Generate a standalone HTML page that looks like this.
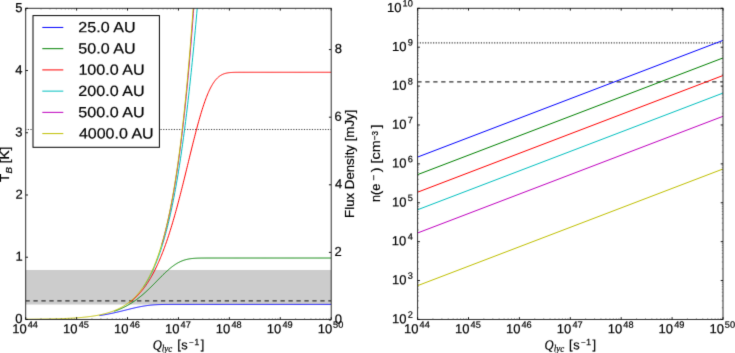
<!DOCTYPE html><html><head><meta charset="utf-8"><style>
html,body{margin:0;padding:0;background:#fff;overflow:hidden;}
svg{display:block;}
text{fill:#000;stroke:#000;stroke-width:0.2px;}
</style></head><body>
<svg width="735" height="353" viewBox="0 0 735 353">
<rect width="735" height="353" fill="#fff"/>
<filter id="bl" color-interpolation-filters="sRGB" filterUnits="userSpaceOnUse" x="0" y="0" width="735" height="353"><feConvolveMatrix order="3" kernelMatrix="0.01832 0.13534 0.01832 0.13534 1.00000 0.13534 0.01832 0.13534 0.01832" edgeMode="duplicate"/></filter>
<g filter="url(#bl)">
<rect width="735" height="353" fill="#fff"/>
<defs><clipPath id="cl"><rect x="25.70" y="8.30" width="305.50" height="311.15"/></clipPath>
<clipPath id="cr"><rect x="417.60" y="8.30" width="305.40" height="311.15"/></clipPath></defs>
<g clip-path="url(#cl)">
<rect x="25.70" y="269.98" width="305.50" height="34.54" fill="#cccccc"/>
<line x1="25.45" y1="300.78" x2="331.20" y2="300.78" stroke="#333" stroke-width="1.25" stroke-dasharray="4.3 3.67"/>
<line x1="25.10" y1="129.46" x2="331.20" y2="129.46" stroke="#404040" stroke-width="1.1" stroke-dasharray="1.2 1.455"/>
<path d="M99.40,315.57 L99.91,315.50 L100.42,315.42 L100.93,315.34 L101.44,315.26 L101.95,315.18 L102.46,315.09 L102.97,315.01 L103.48,314.92 L103.98,314.83 L104.49,314.75 L105.00,314.66 L105.51,314.57 L106.02,314.47 L106.53,314.38 L107.04,314.28 L107.55,314.19 L108.06,314.09 L108.57,313.99 L109.08,313.89 L109.59,313.79 L110.09,313.69 L110.60,313.58 L111.11,313.48 L111.62,313.37 L112.13,313.26 L112.64,313.16 L113.15,313.05 L113.66,312.94 L114.17,312.82 L114.68,312.71 L115.19,312.60 L115.70,312.48 L116.20,312.37 L116.71,312.25 L117.22,312.13 L117.73,312.01 L118.24,311.89 L118.75,311.77 L119.26,311.65 L119.77,311.53 L120.28,311.40 L120.79,311.28 L121.30,311.16 L121.81,311.03 L122.31,310.91 L122.82,310.78 L123.33,310.65 L123.84,310.53 L124.35,310.40 L124.86,310.27 L125.37,310.15 L125.88,310.02 L126.39,309.89 L126.90,309.77 L127.41,309.64 L127.92,309.51 L128.42,309.38 L128.93,309.26 L129.44,309.13 L129.95,309.01 L130.46,308.88 L130.97,308.76 L131.48,308.63 L131.99,308.51 L132.50,308.39 L133.01,308.27 L133.52,308.15 L134.03,308.03 L134.53,307.91 L135.04,307.79 L135.55,307.68 L136.06,307.56 L136.57,307.45 L137.08,307.34 L137.59,307.23 L138.10,307.12 L138.61,307.02 L139.12,306.91 L139.63,306.81 L140.14,306.71 L140.64,306.61 L141.15,306.52 L141.66,306.42 L142.17,306.33 L142.68,306.24 L143.19,306.15 L143.70,306.07 L144.21,305.99 L144.72,305.91 L145.23,305.83 L145.74,305.75 L146.25,305.68 L146.75,305.61 L147.26,305.54 L147.77,305.48 L148.28,305.41 L148.79,305.35 L149.30,305.29 L149.81,305.24 L150.32,305.18 L150.83,305.13 L151.34,305.08 L151.85,305.04 L152.36,304.99 L152.86,304.95 L153.37,304.91 L153.88,304.87 L154.39,304.84 L154.90,304.80 L155.41,304.77 L155.92,304.74 L156.43,304.72 L156.94,304.69 L157.45,304.67 L157.96,304.64 L158.47,304.62 L158.97,304.60 L159.48,304.59 L159.99,304.57 L160.50,304.55 L161.01,304.54 L161.52,304.53 L162.03,304.52 L162.54,304.51 L163.05,304.50 L163.56,304.49 L164.07,304.48 L164.58,304.47 L165.08,304.47 L165.59,304.46 L166.10,304.46 L166.61,304.45 L167.12,304.45 L167.63,304.44 L168.14,304.44 L168.65,304.44 L169.16,304.44 L169.67,304.43 L170.18,304.43 L170.69,304.43 L171.19,304.43 L171.70,304.43 L172.21,304.43 L172.72,304.43 L173.23,304.42 L173.74,304.42 L174.25,304.42 L174.76,304.42 L175.27,304.42 L175.78,304.42 L176.29,304.42 L176.80,304.42 L177.30,304.42 L177.81,304.42 L178.32,304.42 L178.83,304.42 L179.34,304.42 L179.85,304.42 L180.36,304.42 L180.87,304.42 L181.38,304.42 L181.89,304.42 L182.40,304.42 L182.91,304.42 L183.41,304.42 L183.92,304.42 L184.43,304.42 L184.94,304.42 L185.45,304.42 L185.96,304.42 L186.47,304.42 L186.98,304.42 L187.49,304.42 L188.00,304.42 L188.51,304.42 L189.02,304.42 L189.52,304.42 L190.03,304.42 L190.54,304.42 L191.05,304.42 L191.56,304.42 L192.07,304.42 L192.58,304.42 L193.09,304.42 L193.60,304.42 L194.11,304.42 L194.62,304.42 L195.13,304.42 L195.63,304.42 L196.14,304.42 L196.65,304.42 L197.16,304.42 L197.67,304.42 L198.18,304.42 L198.69,304.42 L199.20,304.42 L199.71,304.42 L200.22,304.42 L200.73,304.42 L201.24,304.42 L201.74,304.42 L202.25,304.42 L202.76,304.42 L203.27,304.42 L203.78,304.42 L204.29,304.42 L204.80,304.42 L205.31,304.42 L205.82,304.42 L206.33,304.42 L206.84,304.42 L207.35,304.42 L207.85,304.42 L208.36,304.42 L208.87,304.42 L209.38,304.42 L209.89,304.42 L210.40,304.42 L210.91,304.42 L211.42,304.42 L211.93,304.42 L212.44,304.42 L212.95,304.42 L213.46,304.42 L213.96,304.42 L214.47,304.42 L214.98,304.42 L215.49,304.42 L216.00,304.42 L216.51,304.42 L217.02,304.42 L217.53,304.42 L218.04,304.42 L218.55,304.42 L219.06,304.42 L219.57,304.42 L220.07,304.42 L220.58,304.42 L221.09,304.42 L221.60,304.42 L222.11,304.42 L222.62,304.42 L223.13,304.42 L223.64,304.42 L224.15,304.42 L224.66,304.42 L225.17,304.42 L225.68,304.42 L226.18,304.42 L226.69,304.42 L227.20,304.42 L227.71,304.42 L228.22,304.42 L228.73,304.42 L229.24,304.42 L229.75,304.42 L230.26,304.42 L230.77,304.42 L231.28,304.42 L231.79,304.42 L232.29,304.42 L232.80,304.42 L233.31,304.42 L233.82,304.42 L234.33,304.42 L234.84,304.42 L235.35,304.42 L235.86,304.42 L236.37,304.42 L236.88,304.42 L237.39,304.42 L237.90,304.42 L238.40,304.42 L238.91,304.42 L239.42,304.42 L239.93,304.42 L240.44,304.42 L240.95,304.42 L241.46,304.42 L241.97,304.42 L242.48,304.42 L242.99,304.42 L243.50,304.42 L244.01,304.42 L244.51,304.42 L245.02,304.42 L245.53,304.42 L246.04,304.42 L246.55,304.42 L247.06,304.42 L247.57,304.42 L248.08,304.42 L248.59,304.42 L249.10,304.42 L249.61,304.42 L250.12,304.42 L250.62,304.42 L251.13,304.42 L251.64,304.42 L252.15,304.42 L252.66,304.42 L253.17,304.42 L253.68,304.42 L254.19,304.42 L254.70,304.42 L255.21,304.42 L255.72,304.42 L256.23,304.42 L256.73,304.42 L257.24,304.42 L257.75,304.42 L258.26,304.42 L258.77,304.42 L259.28,304.42 L259.79,304.42 L260.30,304.42 L260.81,304.42 L261.32,304.42 L261.83,304.42 L262.34,304.42 L262.84,304.42 L263.35,304.42 L263.86,304.42 L264.37,304.42 L264.88,304.42 L265.39,304.42 L265.90,304.42 L266.41,304.42 L266.92,304.42 L267.43,304.42 L267.94,304.42 L268.45,304.42 L268.95,304.42 L269.46,304.42 L269.97,304.42 L270.48,304.42 L270.99,304.42 L271.50,304.42 L272.01,304.42 L272.52,304.42 L273.03,304.42 L273.54,304.42 L274.05,304.42 L274.56,304.42 L275.06,304.42 L275.57,304.42 L276.08,304.42 L276.59,304.42 L277.10,304.42 L277.61,304.42 L278.12,304.42 L278.63,304.42 L279.14,304.42 L279.65,304.42 L280.16,304.42 L280.67,304.42 L281.17,304.42 L281.68,304.42 L282.19,304.42 L282.70,304.42 L283.21,304.42 L283.72,304.42 L284.23,304.42 L284.74,304.42 L285.25,304.42 L285.76,304.42 L286.27,304.42 L286.78,304.42 L287.28,304.42 L287.79,304.42 L288.30,304.42 L288.81,304.42 L289.32,304.42 L289.83,304.42 L290.34,304.42 L290.85,304.42 L291.36,304.42 L291.87,304.42 L292.38,304.42 L292.89,304.42 L293.39,304.42 L293.90,304.42 L294.41,304.42 L294.92,304.42 L295.43,304.42 L295.94,304.42 L296.45,304.42 L296.96,304.42 L297.47,304.42 L297.98,304.42 L298.49,304.42 L299.00,304.42 L299.50,304.42 L300.01,304.42 L300.52,304.42 L301.03,304.42 L301.54,304.42 L302.05,304.42 L302.56,304.42 L303.07,304.42 L303.58,304.42 L304.09,304.42 L304.60,304.42 L305.11,304.42 L305.61,304.42 L306.12,304.42 L306.63,304.42 L307.14,304.42 L307.65,304.42 L308.16,304.42 L308.67,304.42 L309.18,304.42 L309.69,304.42 L310.20,304.42 L310.71,304.42 L311.22,304.42 L311.72,304.42 L312.23,304.42 L312.74,304.42 L313.25,304.42 L313.76,304.42 L314.27,304.42 L314.78,304.42 L315.29,304.42 L315.80,304.42 L316.31,304.42 L316.82,304.42 L317.33,304.42 L317.83,304.42 L318.34,304.42 L318.85,304.42 L319.36,304.42 L319.87,304.42 L320.38,304.42 L320.89,304.42 L321.40,304.42 L321.91,304.42 L322.42,304.42 L322.93,304.42 L323.44,304.42 L323.94,304.42 L324.45,304.42 L324.96,304.42 L325.47,304.42 L325.98,304.42 L326.49,304.42 L327.00,304.42 L327.51,304.42 L328.02,304.42 L328.53,304.42 L329.04,304.42 L329.55,304.42 L330.05,304.42 L330.56,304.42 L331.07,304.42 L331.20,304.42" fill="none" stroke="#0000ff" stroke-width="1.00"/>
<path d="M114.30,311.26 L114.80,311.08 L115.31,310.90 L115.82,310.72 L116.33,310.53 L116.84,310.34 L117.35,310.14 L117.86,309.95 L118.37,309.74 L118.88,309.54 L119.39,309.32 L119.90,309.11 L120.40,308.89 L120.91,308.67 L121.42,308.44 L121.93,308.21 L122.44,307.97 L122.95,307.73 L123.46,307.49 L123.97,307.24 L124.48,306.99 L124.99,306.73 L125.50,306.47 L126.01,306.20 L126.51,305.93 L127.02,305.65 L127.53,305.37 L128.04,305.08 L128.55,304.79 L129.06,304.50 L129.57,304.20 L130.08,303.89 L130.59,303.58 L131.10,303.26 L131.61,302.94 L132.12,302.61 L132.63,302.28 L133.13,301.95 L133.64,301.60 L134.15,301.26 L134.66,300.91 L135.17,300.55 L135.68,300.19 L136.19,299.82 L136.70,299.44 L137.21,299.07 L137.72,298.68 L138.23,298.29 L138.73,297.90 L139.24,297.50 L139.75,297.10 L140.26,296.69 L140.77,296.27 L141.28,295.85 L141.79,295.43 L142.30,295.00 L142.81,294.56 L143.32,294.12 L143.83,293.68 L144.34,293.23 L144.85,292.78 L145.35,292.32 L145.86,291.86 L146.37,291.39 L146.88,290.92 L147.39,290.44 L147.90,289.96 L148.41,289.48 L148.92,288.99 L149.43,288.50 L149.94,288.01 L150.45,287.51 L150.96,287.01 L151.46,286.51 L151.97,286.01 L152.48,285.50 L152.99,284.99 L153.50,284.48 L154.01,283.96 L154.52,283.45 L155.03,282.93 L155.54,282.41 L156.05,281.89 L156.56,281.37 L157.06,280.85 L157.57,280.33 L158.08,279.81 L158.59,279.29 L159.10,278.77 L159.61,278.26 L160.12,277.74 L160.63,277.22 L161.14,276.71 L161.65,276.20 L162.16,275.69 L162.67,275.19 L163.18,274.68 L163.68,274.19 L164.19,273.69 L164.70,273.20 L165.21,272.71 L165.72,272.23 L166.23,271.76 L166.74,271.29 L167.25,270.82 L167.76,270.36 L168.27,269.91 L168.78,269.46 L169.28,269.02 L169.79,268.59 L170.30,268.17 L170.81,267.75 L171.32,267.34 L171.83,266.94 L172.34,266.55 L172.85,266.17 L173.36,265.79 L173.87,265.43 L174.38,265.07 L174.89,264.73 L175.39,264.39 L175.90,264.06 L176.41,263.74 L176.92,263.44 L177.43,263.14 L177.94,262.85 L178.45,262.57 L178.96,262.31 L179.47,262.05 L179.98,261.80 L180.49,261.56 L181.00,261.34 L181.51,261.12 L182.01,260.91 L182.52,260.71 L183.03,260.52 L183.54,260.34 L184.05,260.17 L184.56,260.01 L185.07,259.86 L185.58,259.72 L186.09,259.58 L186.60,259.45 L187.11,259.33 L187.61,259.22 L188.12,259.12 L188.63,259.02 L189.14,258.93 L189.65,258.84 L190.16,258.77 L190.67,258.69 L191.18,258.63 L191.69,258.57 L192.20,258.51 L192.71,258.46 L193.22,258.41 L193.72,258.37 L194.23,258.33 L194.74,258.30 L195.25,258.26 L195.76,258.24 L196.27,258.21 L196.78,258.19 L197.29,258.17 L197.80,258.15 L198.31,258.13 L198.82,258.12 L199.33,258.11 L199.84,258.09 L200.34,258.08 L200.85,258.08 L201.36,258.07 L201.87,258.06 L202.38,258.06 L202.89,258.05 L203.40,258.05 L203.91,258.05 L204.42,258.04 L204.93,258.04 L205.44,258.04 L205.94,258.04 L206.45,258.03 L206.96,258.03 L207.47,258.03 L207.98,258.03 L208.49,258.03 L209.00,258.03 L209.51,258.03 L210.02,258.03 L210.53,258.03 L211.04,258.03 L211.55,258.03 L212.05,258.03 L212.56,258.03 L213.07,258.03 L213.58,258.03 L214.09,258.03 L214.60,258.03 L215.11,258.03 L215.62,258.03 L216.13,258.03 L216.64,258.03 L217.15,258.03 L217.66,258.03 L218.17,258.03 L218.67,258.03 L219.18,258.03 L219.69,258.03 L220.20,258.03 L220.71,258.03 L221.22,258.03 L221.73,258.03 L222.24,258.03 L222.75,258.03 L223.26,258.03 L223.77,258.03 L224.27,258.03 L224.78,258.03 L225.29,258.03 L225.80,258.03 L226.31,258.03 L226.82,258.03 L227.33,258.03 L227.84,258.03 L228.35,258.03 L228.86,258.03 L229.37,258.03 L229.88,258.03 L230.38,258.03 L230.89,258.03 L231.40,258.03 L231.91,258.03 L232.42,258.03 L232.93,258.03 L233.44,258.03 L233.95,258.03 L234.46,258.03 L234.97,258.03 L235.48,258.03 L235.99,258.03 L236.50,258.03 L237.00,258.03 L237.51,258.03 L238.02,258.03 L238.53,258.03 L239.04,258.03 L239.55,258.03 L240.06,258.03 L240.57,258.03 L241.08,258.03 L241.59,258.03 L242.10,258.03 L242.60,258.03 L243.11,258.03 L243.62,258.03 L244.13,258.03 L244.64,258.03 L245.15,258.03 L245.66,258.03 L246.17,258.03 L246.68,258.03 L247.19,258.03 L247.70,258.03 L248.21,258.03 L248.72,258.03 L249.22,258.03 L249.73,258.03 L250.24,258.03 L250.75,258.03 L251.26,258.03 L251.77,258.03 L252.28,258.03 L252.79,258.03 L253.30,258.03 L253.81,258.03 L254.32,258.03 L254.82,258.03 L255.33,258.03 L255.84,258.03 L256.35,258.03 L256.86,258.03 L257.37,258.03 L257.88,258.03 L258.39,258.03 L258.90,258.03 L259.41,258.03 L259.92,258.03 L260.43,258.03 L260.93,258.03 L261.44,258.03 L261.95,258.03 L262.46,258.03 L262.97,258.03 L263.48,258.03 L263.99,258.03 L264.50,258.03 L265.01,258.03 L265.52,258.03 L266.03,258.03 L266.54,258.03 L267.05,258.03 L267.55,258.03 L268.06,258.03 L268.57,258.03 L269.08,258.03 L269.59,258.03 L270.10,258.03 L270.61,258.03 L271.12,258.03 L271.63,258.03 L272.14,258.03 L272.65,258.03 L273.15,258.03 L273.66,258.03 L274.17,258.03 L274.68,258.03 L275.19,258.03 L275.70,258.03 L276.21,258.03 L276.72,258.03 L277.23,258.03 L277.74,258.03 L278.25,258.03 L278.76,258.03 L279.27,258.03 L279.77,258.03 L280.28,258.03 L280.79,258.03 L281.30,258.03 L281.81,258.03 L282.32,258.03 L282.83,258.03 L283.34,258.03 L283.85,258.03 L284.36,258.03 L284.87,258.03 L285.38,258.03 L285.88,258.03 L286.39,258.03 L286.90,258.03 L287.41,258.03 L287.92,258.03 L288.43,258.03 L288.94,258.03 L289.45,258.03 L289.96,258.03 L290.47,258.03 L290.98,258.03 L291.48,258.03 L291.99,258.03 L292.50,258.03 L293.01,258.03 L293.52,258.03 L294.03,258.03 L294.54,258.03 L295.05,258.03 L295.56,258.03 L296.07,258.03 L296.58,258.03 L297.09,258.03 L297.60,258.03 L298.10,258.03 L298.61,258.03 L299.12,258.03 L299.63,258.03 L300.14,258.03 L300.65,258.03 L301.16,258.03 L301.67,258.03 L302.18,258.03 L302.69,258.03 L303.20,258.03 L303.71,258.03 L304.21,258.03 L304.72,258.03 L305.23,258.03 L305.74,258.03 L306.25,258.03 L306.76,258.03 L307.27,258.03 L307.78,258.03 L308.29,258.03 L308.80,258.03 L309.31,258.03 L309.81,258.03 L310.32,258.03 L310.83,258.03 L311.34,258.03 L311.85,258.03 L312.36,258.03 L312.87,258.03 L313.38,258.03 L313.89,258.03 L314.40,258.03 L314.91,258.03 L315.42,258.03 L315.93,258.03 L316.43,258.03 L316.94,258.03 L317.45,258.03 L317.96,258.03 L318.47,258.03 L318.98,258.03 L319.49,258.03 L320.00,258.03 L320.51,258.03 L321.02,258.03 L321.53,258.03 L322.04,258.03 L322.54,258.03 L323.05,258.03 L323.56,258.03 L324.07,258.03 L324.58,258.03 L325.09,258.03 L325.60,258.03 L326.11,258.03 L326.62,258.03 L327.13,258.03 L327.64,258.03 L328.14,258.03 L328.65,258.03 L329.16,258.03 L329.67,258.03 L330.18,258.03 L330.69,258.03 L331.20,258.03" fill="none" stroke="#008000" stroke-width="1.00"/>
<path d="M129.44,302.62 L129.95,302.24 L130.46,301.85 L130.97,301.46 L131.48,301.05 L131.99,300.64 L132.50,300.22 L133.01,299.79 L133.52,299.35 L134.03,298.90 L134.53,298.45 L135.04,297.98 L135.55,297.50 L136.06,297.01 L136.57,296.52 L137.08,296.01 L137.59,295.49 L138.10,294.96 L138.61,294.42 L139.12,293.87 L139.63,293.31 L140.14,292.73 L140.64,292.14 L141.15,291.55 L141.66,290.93 L142.17,290.31 L142.68,289.67 L143.19,289.03 L143.70,288.36 L144.21,287.69 L144.72,287.00 L145.23,286.30 L145.74,285.58 L146.25,284.85 L146.75,284.10 L147.26,283.34 L147.77,282.57 L148.28,281.78 L148.79,280.97 L149.30,280.15 L149.81,279.31 L150.32,278.46 L150.83,277.59 L151.34,276.71 L151.85,275.81 L152.36,274.89 L152.86,273.95 L153.37,273.00 L153.88,272.03 L154.39,271.04 L154.90,270.03 L155.41,269.01 L155.92,267.96 L156.43,266.90 L156.94,265.82 L157.45,264.72 L157.96,263.60 L158.47,262.46 L158.97,261.31 L159.48,260.13 L159.99,258.93 L160.50,257.72 L161.01,256.48 L161.52,255.22 L162.03,253.94 L162.54,252.65 L163.05,251.33 L163.56,249.99 L164.07,248.63 L164.58,247.24 L165.08,245.84 L165.59,244.42 L166.10,242.97 L166.61,241.51 L167.12,240.02 L167.63,238.51 L168.14,236.99 L168.65,235.44 L169.16,233.86 L169.67,232.27 L170.18,230.66 L170.69,229.03 L171.19,227.37 L171.70,225.70 L172.21,224.00 L172.72,222.29 L173.23,220.55 L173.74,218.80 L174.25,217.02 L174.76,215.23 L175.27,213.42 L175.78,211.59 L176.29,209.74 L176.80,207.88 L177.30,205.99 L177.81,204.09 L178.32,202.18 L178.83,200.24 L179.34,198.30 L179.85,196.33 L180.36,194.36 L180.87,192.37 L181.38,190.37 L181.89,188.35 L182.40,186.33 L182.91,184.29 L183.41,182.24 L183.92,180.19 L184.43,178.13 L184.94,176.06 L185.45,173.98 L185.96,171.90 L186.47,169.81 L186.98,167.72 L187.49,165.63 L188.00,163.53 L188.51,161.44 L189.02,159.35 L189.52,157.26 L190.03,155.17 L190.54,153.09 L191.05,151.01 L191.56,148.94 L192.07,146.88 L192.58,144.82 L193.09,142.78 L193.60,140.75 L194.11,138.73 L194.62,136.73 L195.13,134.74 L195.63,132.78 L196.14,130.82 L196.65,128.89 L197.16,126.98 L197.67,125.09 L198.18,123.23 L198.69,121.39 L199.20,119.57 L199.71,117.79 L200.22,116.03 L200.73,114.30 L201.24,112.60 L201.74,110.93 L202.25,109.30 L202.76,107.69 L203.27,106.13 L203.78,104.59 L204.29,103.10 L204.80,101.64 L205.31,100.22 L205.82,98.83 L206.33,97.49 L206.84,96.18 L207.35,94.92 L207.85,93.69 L208.36,92.51 L208.87,91.36 L209.38,90.25 L209.89,89.19 L210.40,88.17 L210.91,87.18 L211.42,86.24 L211.93,85.33 L212.44,84.47 L212.95,83.64 L213.46,82.86 L213.96,82.11 L214.47,81.40 L214.98,80.72 L215.49,80.08 L216.00,79.48 L216.51,78.91 L217.02,78.37 L217.53,77.87 L218.04,77.40 L218.55,76.95 L219.06,76.54 L219.57,76.16 L220.07,75.80 L220.58,75.46 L221.09,75.16 L221.60,74.87 L222.11,74.61 L222.62,74.37 L223.13,74.15 L223.64,73.95 L224.15,73.76 L224.66,73.60 L225.17,73.45 L225.68,73.31 L226.18,73.18 L226.69,73.07 L227.20,72.97 L227.71,72.88 L228.22,72.80 L228.73,72.73 L229.24,72.67 L229.75,72.61 L230.26,72.57 L230.77,72.52 L231.28,72.49 L231.79,72.45 L232.29,72.43 L232.80,72.40 L233.31,72.38 L233.82,72.36 L234.33,72.35 L234.84,72.33 L235.35,72.32 L235.86,72.31 L236.37,72.31 L236.88,72.30 L237.39,72.30 L237.90,72.29 L238.40,72.29 L238.91,72.28 L239.42,72.28 L239.93,72.28 L240.44,72.28 L240.95,72.28 L241.46,72.28 L241.97,72.28 L242.48,72.27 L242.99,72.27 L243.50,72.27 L244.01,72.27 L244.51,72.27 L245.02,72.27 L245.53,72.27 L246.04,72.27 L246.55,72.27 L247.06,72.27 L247.57,72.27 L248.08,72.27 L248.59,72.27 L249.10,72.27 L249.61,72.27 L250.12,72.27 L250.62,72.27 L251.13,72.27 L251.64,72.27 L252.15,72.27 L252.66,72.27 L253.17,72.27 L253.68,72.27 L254.19,72.27 L254.70,72.27 L255.21,72.27 L255.72,72.27 L256.23,72.27 L256.73,72.27 L257.24,72.27 L257.75,72.27 L258.26,72.27 L258.77,72.27 L259.28,72.27 L259.79,72.27 L260.30,72.27 L260.81,72.27 L261.32,72.27 L261.83,72.27 L262.34,72.27 L262.84,72.27 L263.35,72.27 L263.86,72.27 L264.37,72.27 L264.88,72.27 L265.39,72.27 L265.90,72.27 L266.41,72.27 L266.92,72.27 L267.43,72.27 L267.94,72.27 L268.45,72.27 L268.95,72.27 L269.46,72.27 L269.97,72.27 L270.48,72.27 L270.99,72.27 L271.50,72.27 L272.01,72.27 L272.52,72.27 L273.03,72.27 L273.54,72.27 L274.05,72.27 L274.56,72.27 L275.06,72.27 L275.57,72.27 L276.08,72.27 L276.59,72.27 L277.10,72.27 L277.61,72.27 L278.12,72.27 L278.63,72.27 L279.14,72.27 L279.65,72.27 L280.16,72.27 L280.67,72.27 L281.17,72.27 L281.68,72.27 L282.19,72.27 L282.70,72.27 L283.21,72.27 L283.72,72.27 L284.23,72.27 L284.74,72.27 L285.25,72.27 L285.76,72.27 L286.27,72.27 L286.78,72.27 L287.28,72.27 L287.79,72.27 L288.30,72.27 L288.81,72.27 L289.32,72.27 L289.83,72.27 L290.34,72.27 L290.85,72.27 L291.36,72.27 L291.87,72.27 L292.38,72.27 L292.89,72.27 L293.39,72.27 L293.90,72.27 L294.41,72.27 L294.92,72.27 L295.43,72.27 L295.94,72.27 L296.45,72.27 L296.96,72.27 L297.47,72.27 L297.98,72.27 L298.49,72.27 L299.00,72.27 L299.50,72.27 L300.01,72.27 L300.52,72.27 L301.03,72.27 L301.54,72.27 L302.05,72.27 L302.56,72.27 L303.07,72.27 L303.58,72.27 L304.09,72.27 L304.60,72.27 L305.11,72.27 L305.61,72.27 L306.12,72.27 L306.63,72.27 L307.14,72.27 L307.65,72.27 L308.16,72.27 L308.67,72.27 L309.18,72.27 L309.69,72.27 L310.20,72.27 L310.71,72.27 L311.22,72.27 L311.72,72.27 L312.23,72.27 L312.74,72.27 L313.25,72.27 L313.76,72.27 L314.27,72.27 L314.78,72.27 L315.29,72.27 L315.80,72.27 L316.31,72.27 L316.82,72.27 L317.33,72.27 L317.83,72.27 L318.34,72.27 L318.85,72.27 L319.36,72.27 L319.87,72.27 L320.38,72.27 L320.89,72.27 L321.40,72.27 L321.91,72.27 L322.42,72.27 L322.93,72.27 L323.44,72.27 L323.94,72.27 L324.45,72.27 L324.96,72.27 L325.47,72.27 L325.98,72.27 L326.49,72.27 L327.00,72.27 L327.51,72.27 L328.02,72.27 L328.53,72.27 L329.04,72.27 L329.55,72.27 L330.05,72.27 L330.56,72.27 L331.07,72.27 L331.20,72.27" fill="none" stroke="#ff0000" stroke-width="1.00"/>
<path d="M143.32,287.33 L143.83,286.59 L144.34,285.84 L144.85,285.07 L145.35,284.29 L145.86,283.48 L146.37,282.66 L146.88,281.82 L147.39,280.96 L147.90,280.08 L148.41,279.18 L148.92,278.27 L149.43,277.33 L149.94,276.37 L150.45,275.39 L150.96,274.38 L151.46,273.36 L151.97,272.31 L152.48,271.24 L152.99,270.15 L153.50,269.03 L154.01,267.89 L154.52,266.72 L155.03,265.52 L155.54,264.30 L156.05,263.05 L156.56,261.78 L157.06,260.48 L157.57,259.15 L158.08,257.79 L158.59,256.40 L159.10,254.98 L159.61,253.53 L160.12,252.05 L160.63,250.53 L161.14,248.98 L161.65,247.40 L162.16,245.79 L162.67,244.14 L163.18,242.46 L163.68,240.74 L164.19,238.98 L164.70,237.19 L165.21,235.35 L165.72,233.48 L166.23,231.57 L166.74,229.62 L167.25,227.63 L167.76,225.60 L168.27,223.52 L168.78,221.40 L169.28,219.24 L169.79,217.03 L170.30,214.77 L170.81,212.47 L171.32,210.12 L171.83,207.72 L172.34,205.28 L172.85,202.78 L173.36,200.24 L173.87,197.64 L174.38,194.99 L174.89,192.28 L175.39,189.52 L175.90,186.71 L176.41,183.84 L176.92,180.91 L177.43,177.93 L177.94,174.89 L178.45,171.78 L178.96,168.62 L179.47,165.40 L179.98,162.11 L180.49,158.76 L181.00,155.35 L181.51,151.87 L182.01,148.32 L182.52,144.71 L183.03,141.03 L183.54,137.29 L184.05,133.47 L184.56,129.58 L185.07,125.62 L185.58,121.59 L186.09,117.49 L186.60,113.32 L187.11,109.07 L187.61,104.74 L188.12,100.34 L188.63,95.86 L189.14,91.30 L189.65,86.67 L190.16,81.96 L190.67,77.17 L191.18,72.30 L191.69,67.34 L192.20,62.31 L192.71,57.20 L193.22,52.00 L193.72,46.72 L194.23,41.36 L194.74,35.91 L195.25,30.38 L195.76,24.77 L196.27,19.07 L196.78,13.29 L197.29,7.42 L197.80,1.47 L198.31,-4.56 L198.82,-10.68 L198.94,-12.22" fill="none" stroke="#00bfbf" stroke-width="1.00"/>
<path d="M161.77,244.67 L162.28,242.94 L162.79,241.17 L163.30,239.36 L163.81,237.50 L164.32,235.61 L164.83,233.67 L165.34,231.68 L165.85,229.65 L166.36,227.58 L166.87,225.45 L167.38,223.28 L167.88,221.06 L168.39,218.79 L168.90,216.46 L169.41,214.08 L169.92,211.65 L170.43,209.16 L170.94,206.62 L171.45,204.01 L171.96,201.35 L172.47,198.63 L172.98,195.84 L173.49,192.99 L173.99,190.08 L174.50,187.10 L175.01,184.05 L175.52,180.93 L176.03,177.74 L176.54,174.48 L177.05,171.14 L177.56,167.73 L178.07,164.24 L178.58,160.67 L179.09,157.02 L179.60,153.29 L180.10,149.47 L180.61,145.57 L181.12,141.58 L181.63,137.50 L182.14,133.32 L182.65,129.06 L183.16,124.69 L183.67,120.23 L184.18,115.67 L184.69,111.00 L185.20,106.23 L185.71,101.35 L186.21,96.36 L186.72,91.26 L187.23,86.05 L187.74,80.72 L188.25,75.27 L188.76,69.70 L189.27,64.00 L189.78,58.18 L190.29,52.23 L190.80,46.15 L191.31,39.93 L191.82,33.57 L192.32,27.07 L192.83,20.43 L193.34,13.64 L193.85,6.70 L194.36,-0.40 L194.87,-7.65 L195.25,-13.19" fill="none" stroke="#bf00bf" stroke-width="1.00"/>
<path d="M25.70,319.29 L26.21,319.29 L26.72,319.28 L27.23,319.28 L27.74,319.27 L28.25,319.27 L28.76,319.27 L29.26,319.26 L29.77,319.26 L30.28,319.25 L30.79,319.25 L31.30,319.24 L31.81,319.24 L32.32,319.23 L32.83,319.23 L33.34,319.22 L33.85,319.22 L34.36,319.21 L34.86,319.21 L35.37,319.20 L35.88,319.20 L36.39,319.19 L36.90,319.18 L37.41,319.18 L37.92,319.17 L38.43,319.17 L38.94,319.16 L39.45,319.15 L39.96,319.15 L40.47,319.14 L40.97,319.13 L41.48,319.12 L41.99,319.12 L42.50,319.11 L43.01,319.10 L43.52,319.09 L44.03,319.08 L44.54,319.08 L45.05,319.07 L45.56,319.06 L46.07,319.05 L46.58,319.04 L47.09,319.03 L47.59,319.02 L48.10,319.01 L48.61,319.00 L49.12,318.99 L49.63,318.98 L50.14,318.97 L50.65,318.96 L51.16,318.94 L51.67,318.93 L52.18,318.92 L52.69,318.91 L53.19,318.90 L53.70,318.88 L54.21,318.87 L54.72,318.86 L55.23,318.84 L55.74,318.83 L56.25,318.81 L56.76,318.80 L57.27,318.78 L57.78,318.77 L58.29,318.75 L58.80,318.74 L59.30,318.72 L59.81,318.70 L60.32,318.68 L60.83,318.67 L61.34,318.65 L61.85,318.63 L62.36,318.61 L62.87,318.59 L63.38,318.57 L63.89,318.55 L64.40,318.53 L64.91,318.51 L65.42,318.49 L65.92,318.46 L66.43,318.44 L66.94,318.42 L67.45,318.39 L67.96,318.37 L68.47,318.34 L68.98,318.32 L69.49,318.29 L70.00,318.26 L70.51,318.24 L71.02,318.21 L71.52,318.18 L72.03,318.15 L72.54,318.12 L73.05,318.09 L73.56,318.06 L74.07,318.02 L74.58,317.99 L75.09,317.96 L75.60,317.92 L76.11,317.89 L76.62,317.85 L77.13,317.81 L77.64,317.78 L78.14,317.74 L78.65,317.70 L79.16,317.66 L79.67,317.61 L80.18,317.57 L80.69,317.53 L81.20,317.48 L81.71,317.44 L82.22,317.39 L82.73,317.34 L83.24,317.29 L83.75,317.24 L84.25,317.19 L84.76,317.14 L85.27,317.08 L85.78,317.03 L86.29,316.97 L86.80,316.92 L87.31,316.86 L87.82,316.80 L88.33,316.73 L88.84,316.67 L89.35,316.61 L89.85,316.54 L90.36,316.47 L90.87,316.40 L91.38,316.33 L91.89,316.26 L92.40,316.18 L92.91,316.11 L93.42,316.03 L93.93,315.95 L94.44,315.87 L94.95,315.79 L95.46,315.70 L95.97,315.61 L96.47,315.52 L96.98,315.43 L97.49,315.34 L98.00,315.24 L98.51,315.15 L99.02,315.05 L99.53,314.94 L100.04,314.84 L100.55,314.73 L101.06,314.62 L101.57,314.51 L102.08,314.39 L102.58,314.27 L103.09,314.15 L103.60,314.03 L104.11,313.90 L104.62,313.78 L105.13,313.64 L105.64,313.51 L106.15,313.37 L106.66,313.23 L107.17,313.08 L107.68,312.93 L108.18,312.78 L108.69,312.63 L109.20,312.47 L109.71,312.31 L110.22,312.14 L110.73,311.97 L111.24,311.80 L111.75,311.62 L112.26,311.43 L112.77,311.25 L113.28,311.06 L113.79,310.86 L114.30,310.66 L114.80,310.46 L115.31,310.25 L115.82,310.03 L116.33,309.81 L116.84,309.59 L117.35,309.36 L117.86,309.12 L118.37,308.88 L118.88,308.64 L119.39,308.39 L119.90,308.13 L120.40,307.86 L120.91,307.59 L121.42,307.32 L121.93,307.04 L122.44,306.75 L122.95,306.45 L123.46,306.15 L123.97,305.84 L124.48,305.52 L124.99,305.20 L125.50,304.86 L126.01,304.52 L126.51,304.18 L127.02,303.82 L127.53,303.46 L128.04,303.08 L128.55,302.70 L129.06,302.31 L129.57,301.91 L130.08,301.51 L130.59,301.09 L131.10,300.66 L131.61,300.22 L132.12,299.77 L132.63,299.32 L133.13,298.85 L133.64,298.37 L134.15,297.88 L134.66,297.37 L135.17,296.86 L135.68,296.33 L136.19,295.80 L136.70,295.24 L137.21,294.68 L137.72,294.10 L138.23,293.51 L138.73,292.91 L139.24,292.29 L139.75,291.66 L140.26,291.01 L140.77,290.35 L141.28,289.67 L141.79,288.98 L142.30,288.27 L142.81,287.54 L143.32,286.80 L143.83,286.04 L144.34,285.26 L144.85,284.46 L145.35,283.65 L145.86,282.81 L146.37,281.96 L146.88,281.09 L147.39,280.19 L147.90,279.28 L148.41,278.34 L148.92,277.39 L149.43,276.41 L149.94,275.40 L150.45,274.38 L150.96,273.33 L151.46,272.25 L151.97,271.15 L152.48,270.03 L152.99,268.88 L153.50,267.70 L154.01,266.50 L154.52,265.26 L155.03,264.00 L155.54,262.71 L156.05,261.39 L156.56,260.03 L157.06,258.65 L157.57,257.23 L158.08,255.79 L158.59,254.30 L159.10,252.79 L159.61,251.23 L160.12,249.64 L160.63,248.02 L161.14,246.35 L161.65,244.65 L162.16,242.91 L162.67,241.13 L163.18,239.30 L163.68,237.44 L164.19,235.53 L164.70,233.57 L165.21,231.57 L165.72,229.52 L166.23,227.43 L166.74,225.29 L167.25,223.09 L167.76,220.85 L168.27,218.55 L168.78,216.20 L169.28,213.80 L169.79,211.34 L170.30,208.82 L170.81,206.24 L171.32,203.61 L171.83,200.91 L172.34,198.15 L172.85,195.32 L173.36,192.43 L173.87,189.47 L174.38,186.45 L174.89,183.35 L175.39,180.18 L175.90,176.94 L176.41,173.62 L176.92,170.22 L177.43,166.75 L177.94,163.19 L178.45,159.55 L178.96,155.83 L179.47,152.02 L179.98,148.12 L180.49,144.13 L181.00,140.05 L181.51,135.87 L182.01,131.59 L182.52,127.22 L183.03,122.74 L183.54,118.16 L184.05,113.47 L184.56,108.68 L185.07,103.77 L185.58,98.75 L186.09,93.61 L186.60,88.35 L187.11,82.97 L187.61,77.46 L188.12,71.82 L188.63,66.06 L189.14,60.16 L189.65,54.12 L190.16,47.94 L190.67,41.62 L191.18,35.15 L191.69,28.53 L192.20,21.76 L192.71,14.82 L193.22,7.73 L193.72,0.47 L194.23,-6.95 L194.62,-12.64" fill="none" stroke="#bfbf00" stroke-width="1.00"/>
</g>
<rect x="33.0" y="15.6" width="126.4" height="131.7" fill="#fff" stroke="#000" stroke-width="1"/>
<line x1="42.3" y1="27.45" x2="63.3" y2="27.45" stroke="#0000ff" stroke-width="1.00"/>
<line x1="42.3" y1="48.68" x2="63.3" y2="48.68" stroke="#008000" stroke-width="1.00"/>
<line x1="42.3" y1="69.91" x2="63.3" y2="69.91" stroke="#ff0000" stroke-width="1.00"/>
<line x1="42.3" y1="91.14" x2="63.3" y2="91.14" stroke="#00bfbf" stroke-width="1.00"/>
<line x1="42.3" y1="112.37" x2="63.3" y2="112.37" stroke="#bf00bf" stroke-width="1.00"/>
<line x1="42.3" y1="133.60" x2="63.3" y2="133.60" stroke="#bfbf00" stroke-width="1.00"/>
<rect x="25.70" y="8.30" width="305.50" height="311.15" fill="none" stroke="#222" stroke-width="0.95"/>
<g clip-path="url(#cr)">
<line x1="417.10" y1="42.84" x2="723.00" y2="42.84" stroke="#404040" stroke-width="1.1" stroke-dasharray="1.2 1.455"/>
<line x1="417.30" y1="81.89" x2="723.00" y2="81.89" stroke="#333" stroke-width="1.25" stroke-dasharray="4.3 3.67"/>
<line x1="417.60" y1="157.07" x2="723.00" y2="40.39" stroke="#0000ff" stroke-width="1.00"/>
<line x1="417.60" y1="174.63" x2="723.00" y2="57.95" stroke="#008000" stroke-width="1.00"/>
<line x1="417.60" y1="192.19" x2="723.00" y2="75.51" stroke="#ff0000" stroke-width="1.00"/>
<line x1="417.60" y1="209.76" x2="723.00" y2="93.07" stroke="#00bfbf" stroke-width="1.00"/>
<line x1="417.60" y1="232.97" x2="723.00" y2="116.29" stroke="#bf00bf" stroke-width="1.00"/>
<line x1="417.60" y1="285.66" x2="723.00" y2="168.98" stroke="#bfbf00" stroke-width="1.00"/>
</g>
<rect x="417.60" y="8.30" width="305.40" height="311.15" fill="none" stroke="#222" stroke-width="0.95"/>
<path d="M25.70,319.45h2.3 M25.70,257.22h2.3 M25.70,194.99h2.3 M25.70,132.76h2.3 M25.70,70.53h2.3 M25.70,8.30h2.3 M331.20,320.00h-2.3 M331.20,252.40h-2.3 M331.20,184.80h-2.3 M331.20,117.20h-2.3 M331.20,49.60h-2.3 M25.70,319.45v-2.3 M25.70,8.30v2.3 M76.62,319.45v-2.3 M76.62,8.30v2.3 M127.53,319.45v-2.3 M127.53,8.30v2.3 M178.45,319.45v-2.3 M178.45,8.30v2.3 M229.37,319.45v-2.3 M229.37,8.30v2.3 M280.28,319.45v-2.3 M280.28,8.30v2.3 M331.20,319.45v-2.3 M331.20,8.30v2.3 M417.60,319.45v-2.3 M417.60,8.30v2.3 M468.50,319.45v-2.3 M468.50,8.30v2.3 M519.40,319.45v-2.3 M519.40,8.30v2.3 M570.30,319.45v-2.3 M570.30,8.30v2.3 M621.20,319.45v-2.3 M621.20,8.30v2.3 M672.10,319.45v-2.3 M672.10,8.30v2.3 M723.00,319.45v-2.3 M723.00,8.30v2.3 M417.60,319.45h2.3 M723.00,319.45h-2.3 M417.60,280.56h2.3 M723.00,280.56h-2.3 M417.60,241.66h2.3 M723.00,241.66h-2.3 M417.60,202.77h2.3 M723.00,202.77h-2.3 M417.60,163.88h2.3 M723.00,163.88h-2.3 M417.60,124.98h2.3 M723.00,124.98h-2.3 M417.60,86.09h2.3 M723.00,86.09h-2.3 M417.60,47.19h2.3 M723.00,47.19h-2.3 M417.60,8.30h2.3 M723.00,8.30h-2.3" stroke="#000" stroke-width="0.9" fill="none"/>
<path d="M41.03,319.45v-1.2 M41.03,8.30v1.2 M49.99,319.45v-1.2 M49.99,8.30v1.2 M56.35,319.45v-1.2 M56.35,8.30v1.2 M61.29,319.45v-1.2 M61.29,8.30v1.2 M65.32,319.45v-1.2 M65.32,8.30v1.2 M68.73,319.45v-1.2 M68.73,8.30v1.2 M71.68,319.45v-1.2 M71.68,8.30v1.2 M74.29,319.45v-1.2 M74.29,8.30v1.2 M91.94,319.45v-1.2 M91.94,8.30v1.2 M100.91,319.45v-1.2 M100.91,8.30v1.2 M107.27,319.45v-1.2 M107.27,8.30v1.2 M112.21,319.45v-1.2 M112.21,8.30v1.2 M116.24,319.45v-1.2 M116.24,8.30v1.2 M119.65,319.45v-1.2 M119.65,8.30v1.2 M122.60,319.45v-1.2 M122.60,8.30v1.2 M125.20,319.45v-1.2 M125.20,8.30v1.2 M142.86,319.45v-1.2 M142.86,8.30v1.2 M151.83,319.45v-1.2 M151.83,8.30v1.2 M158.19,319.45v-1.2 M158.19,8.30v1.2 M163.12,319.45v-1.2 M163.12,8.30v1.2 M167.15,319.45v-1.2 M167.15,8.30v1.2 M170.56,319.45v-1.2 M170.56,8.30v1.2 M173.52,319.45v-1.2 M173.52,8.30v1.2 M176.12,319.45v-1.2 M176.12,8.30v1.2 M193.78,319.45v-1.2 M193.78,8.30v1.2 M202.74,319.45v-1.2 M202.74,8.30v1.2 M209.10,319.45v-1.2 M209.10,8.30v1.2 M214.04,319.45v-1.2 M214.04,8.30v1.2 M218.07,319.45v-1.2 M218.07,8.30v1.2 M221.48,319.45v-1.2 M221.48,8.30v1.2 M224.43,319.45v-1.2 M224.43,8.30v1.2 M227.04,319.45v-1.2 M227.04,8.30v1.2 M244.69,319.45v-1.2 M244.69,8.30v1.2 M253.66,319.45v-1.2 M253.66,8.30v1.2 M260.02,319.45v-1.2 M260.02,8.30v1.2 M264.96,319.45v-1.2 M264.96,8.30v1.2 M268.99,319.45v-1.2 M268.99,8.30v1.2 M272.40,319.45v-1.2 M272.40,8.30v1.2 M275.35,319.45v-1.2 M275.35,8.30v1.2 M277.95,319.45v-1.2 M277.95,8.30v1.2 M295.61,319.45v-1.2 M295.61,8.30v1.2 M304.58,319.45v-1.2 M304.58,8.30v1.2 M310.94,319.45v-1.2 M310.94,8.30v1.2 M315.87,319.45v-1.2 M315.87,8.30v1.2 M319.90,319.45v-1.2 M319.90,8.30v1.2 M323.31,319.45v-1.2 M323.31,8.30v1.2 M326.27,319.45v-1.2 M326.27,8.30v1.2 M328.87,319.45v-1.2 M328.87,8.30v1.2 M432.92,319.45v-1.2 M432.92,8.30v1.2 M441.89,319.45v-1.2 M441.89,8.30v1.2 M448.24,319.45v-1.2 M448.24,8.30v1.2 M453.18,319.45v-1.2 M453.18,8.30v1.2 M457.21,319.45v-1.2 M457.21,8.30v1.2 M460.62,319.45v-1.2 M460.62,8.30v1.2 M463.57,319.45v-1.2 M463.57,8.30v1.2 M466.17,319.45v-1.2 M466.17,8.30v1.2 M483.82,319.45v-1.2 M483.82,8.30v1.2 M492.79,319.45v-1.2 M492.79,8.30v1.2 M499.14,319.45v-1.2 M499.14,8.30v1.2 M504.08,319.45v-1.2 M504.08,8.30v1.2 M508.11,319.45v-1.2 M508.11,8.30v1.2 M511.52,319.45v-1.2 M511.52,8.30v1.2 M514.47,319.45v-1.2 M514.47,8.30v1.2 M517.07,319.45v-1.2 M517.07,8.30v1.2 M534.72,319.45v-1.2 M534.72,8.30v1.2 M543.69,319.45v-1.2 M543.69,8.30v1.2 M550.04,319.45v-1.2 M550.04,8.30v1.2 M554.98,319.45v-1.2 M554.98,8.30v1.2 M559.01,319.45v-1.2 M559.01,8.30v1.2 M562.42,319.45v-1.2 M562.42,8.30v1.2 M565.37,319.45v-1.2 M565.37,8.30v1.2 M567.97,319.45v-1.2 M567.97,8.30v1.2 M585.62,319.45v-1.2 M585.62,8.30v1.2 M594.59,319.45v-1.2 M594.59,8.30v1.2 M600.94,319.45v-1.2 M600.94,8.30v1.2 M605.88,319.45v-1.2 M605.88,8.30v1.2 M609.91,319.45v-1.2 M609.91,8.30v1.2 M613.32,319.45v-1.2 M613.32,8.30v1.2 M616.27,319.45v-1.2 M616.27,8.30v1.2 M618.87,319.45v-1.2 M618.87,8.30v1.2 M636.52,319.45v-1.2 M636.52,8.30v1.2 M645.49,319.45v-1.2 M645.49,8.30v1.2 M651.84,319.45v-1.2 M651.84,8.30v1.2 M656.78,319.45v-1.2 M656.78,8.30v1.2 M660.81,319.45v-1.2 M660.81,8.30v1.2 M664.22,319.45v-1.2 M664.22,8.30v1.2 M667.17,319.45v-1.2 M667.17,8.30v1.2 M669.77,319.45v-1.2 M669.77,8.30v1.2 M687.42,319.45v-1.2 M687.42,8.30v1.2 M696.39,319.45v-1.2 M696.39,8.30v1.2 M702.74,319.45v-1.2 M702.74,8.30v1.2 M707.68,319.45v-1.2 M707.68,8.30v1.2 M711.71,319.45v-1.2 M711.71,8.30v1.2 M715.12,319.45v-1.2 M715.12,8.30v1.2 M718.07,319.45v-1.2 M718.07,8.30v1.2 M720.67,319.45v-1.2 M720.67,8.30v1.2 M417.60,307.74h1.2 M723.00,307.74h-1.2 M417.60,300.89h1.2 M723.00,300.89h-1.2 M417.60,296.03h1.2 M723.00,296.03h-1.2 M417.60,292.26h1.2 M723.00,292.26h-1.2 M417.60,289.18h1.2 M723.00,289.18h-1.2 M417.60,286.58h1.2 M723.00,286.58h-1.2 M417.60,284.33h1.2 M723.00,284.33h-1.2 M417.60,282.34h1.2 M723.00,282.34h-1.2 M417.60,268.85h1.2 M723.00,268.85h-1.2 M417.60,262.00h1.2 M723.00,262.00h-1.2 M417.60,257.14h1.2 M723.00,257.14h-1.2 M417.60,253.37h1.2 M723.00,253.37h-1.2 M417.60,250.29h1.2 M723.00,250.29h-1.2 M417.60,247.69h1.2 M723.00,247.69h-1.2 M417.60,245.43h1.2 M723.00,245.43h-1.2 M417.60,243.44h1.2 M723.00,243.44h-1.2 M417.60,229.95h1.2 M723.00,229.95h-1.2 M417.60,223.11h1.2 M723.00,223.11h-1.2 M417.60,218.25h1.2 M723.00,218.25h-1.2 M417.60,214.48h1.2 M723.00,214.48h-1.2 M417.60,211.40h1.2 M723.00,211.40h-1.2 M417.60,208.79h1.2 M723.00,208.79h-1.2 M417.60,206.54h1.2 M723.00,206.54h-1.2 M417.60,204.55h1.2 M723.00,204.55h-1.2 M417.60,191.06h1.2 M723.00,191.06h-1.2 M417.60,184.21h1.2 M723.00,184.21h-1.2 M417.60,179.35h1.2 M723.00,179.35h-1.2 M417.60,175.58h1.2 M723.00,175.58h-1.2 M417.60,172.50h1.2 M723.00,172.50h-1.2 M417.60,169.90h1.2 M723.00,169.90h-1.2 M417.60,167.64h1.2 M723.00,167.64h-1.2 M417.60,165.65h1.2 M723.00,165.65h-1.2 M417.60,152.17h1.2 M723.00,152.17h-1.2 M417.60,145.32h1.2 M723.00,145.32h-1.2 M417.60,140.46h1.2 M723.00,140.46h-1.2 M417.60,136.69h1.2 M723.00,136.69h-1.2 M417.60,133.61h1.2 M723.00,133.61h-1.2 M417.60,131.01h1.2 M723.00,131.01h-1.2 M417.60,128.75h1.2 M723.00,128.75h-1.2 M417.60,126.76h1.2 M723.00,126.76h-1.2 M417.60,113.27h1.2 M723.00,113.27h-1.2 M417.60,106.42h1.2 M723.00,106.42h-1.2 M417.60,101.56h1.2 M723.00,101.56h-1.2 M417.60,97.80h1.2 M723.00,97.80h-1.2 M417.60,94.72h1.2 M723.00,94.72h-1.2 M417.60,92.11h1.2 M723.00,92.11h-1.2 M417.60,89.86h1.2 M723.00,89.86h-1.2 M417.60,87.87h1.2 M723.00,87.87h-1.2 M417.60,74.38h1.2 M723.00,74.38h-1.2 M417.60,67.53h1.2 M723.00,67.53h-1.2 M417.60,62.67h1.2 M723.00,62.67h-1.2 M417.60,58.90h1.2 M723.00,58.90h-1.2 M417.60,55.82h1.2 M723.00,55.82h-1.2 M417.60,53.22h1.2 M723.00,53.22h-1.2 M417.60,50.96h1.2 M723.00,50.96h-1.2 M417.60,48.97h1.2 M723.00,48.97h-1.2 M417.60,35.49h1.2 M723.00,35.49h-1.2 M417.60,28.64h1.2 M723.00,28.64h-1.2 M417.60,23.78h1.2 M723.00,23.78h-1.2 M417.60,20.01h1.2 M723.00,20.01h-1.2 M417.60,16.93h1.2 M723.00,16.93h-1.2 M417.60,14.32h1.2 M723.00,14.32h-1.2 M417.60,12.07h1.2 M723.00,12.07h-1.2 M417.60,10.08h1.2 M723.00,10.08h-1.2" stroke="#444" stroke-width="0.55" fill="none"/>
<text transform="translate(78.33,32.30) rotate(0.05) scale(1.0877,1.0000)" style="font-family:'Liberation Sans',sans-serif;font-size:14.80px">25.0 AU</text>
<text transform="translate(78.33,53.55) rotate(0.05) scale(1.0877,1.0000)" style="font-family:'Liberation Sans',sans-serif;font-size:14.80px">50.0 AU</text>
<text transform="translate(78.39,74.80) rotate(0.05) scale(1.0889,1.0000)" style="font-family:'Liberation Sans',sans-serif;font-size:14.80px">100.0 AU</text>
<text transform="translate(78.33,96.05) rotate(0.05) scale(1.0898,1.0000)" style="font-family:'Liberation Sans',sans-serif;font-size:14.80px">200.0 AU</text>
<text transform="translate(78.33,117.30) rotate(0.05) scale(1.0898,1.0000)" style="font-family:'Liberation Sans',sans-serif;font-size:14.80px">500.0 AU</text>
<text transform="translate(78.88,138.55) rotate(0.05) scale(1.0819,1.0000)" style="font-family:'Liberation Sans',sans-serif;font-size:14.80px">4000.0 AU</text>
<text transform="translate(15.20,323.10) rotate(0.05)" style="font-family:'Liberation Sans',sans-serif;font-size:13.00px">0</text>
<text transform="translate(15.45,260.87) rotate(0.05)" style="font-family:'Liberation Sans',sans-serif;font-size:13.00px">1</text>
<text transform="translate(15.45,198.64) rotate(0.05)" style="font-family:'Liberation Sans',sans-serif;font-size:13.00px">2</text>
<text transform="translate(15.20,136.41) rotate(0.05)" style="font-family:'Liberation Sans',sans-serif;font-size:13.00px">3</text>
<text transform="translate(15.20,74.18) rotate(0.05)" style="font-family:'Liberation Sans',sans-serif;font-size:13.00px">4</text>
<text transform="translate(15.20,11.95) rotate(0.05)" style="font-family:'Liberation Sans',sans-serif;font-size:13.00px">5</text>
<text transform="translate(334.75,323.50) rotate(0.05)" style="font-family:'Liberation Sans',sans-serif;font-size:13.00px">0</text>
<text transform="translate(334.50,255.90) rotate(0.05)" style="font-family:'Liberation Sans',sans-serif;font-size:13.00px">2</text>
<text transform="translate(335.00,188.30) rotate(0.05)" style="font-family:'Liberation Sans',sans-serif;font-size:13.00px">4</text>
<text transform="translate(334.50,120.70) rotate(0.05)" style="font-family:'Liberation Sans',sans-serif;font-size:13.00px">6</text>
<text transform="translate(334.75,53.10) rotate(0.05)" style="font-family:'Liberation Sans',sans-serif;font-size:13.00px">8</text>
<text transform="translate(12.20,333.35) rotate(0.05)" style="font-family:'Liberation Sans',sans-serif;font-size:13.00px">10</text>
<text transform="translate(27.67,327.73) rotate(0.05)" style="font-family:'Liberation Sans',sans-serif;font-size:9.20px">44</text>
<text transform="translate(63.12,333.35) rotate(0.05)" style="font-family:'Liberation Sans',sans-serif;font-size:13.00px">10</text>
<text transform="translate(78.72,327.73) rotate(0.05)" style="font-family:'Liberation Sans',sans-serif;font-size:9.20px">45</text>
<text transform="translate(114.03,333.35) rotate(0.05)" style="font-family:'Liberation Sans',sans-serif;font-size:13.00px">10</text>
<text transform="translate(129.63,327.85) rotate(0.05)" style="font-family:'Liberation Sans',sans-serif;font-size:9.20px">46</text>
<text transform="translate(164.95,333.35) rotate(0.05)" style="font-family:'Liberation Sans',sans-serif;font-size:13.00px">10</text>
<text transform="translate(180.55,327.73) rotate(0.05)" style="font-family:'Liberation Sans',sans-serif;font-size:9.20px">47</text>
<text transform="translate(215.87,333.35) rotate(0.05)" style="font-family:'Liberation Sans',sans-serif;font-size:13.00px">10</text>
<text transform="translate(231.47,327.85) rotate(0.05)" style="font-family:'Liberation Sans',sans-serif;font-size:9.20px">48</text>
<text transform="translate(266.78,333.35) rotate(0.05)" style="font-family:'Liberation Sans',sans-serif;font-size:13.00px">10</text>
<text transform="translate(282.38,327.85) rotate(0.05)" style="font-family:'Liberation Sans',sans-serif;font-size:9.20px">49</text>
<text transform="translate(317.70,333.35) rotate(0.05)" style="font-family:'Liberation Sans',sans-serif;font-size:13.00px">10</text>
<text transform="translate(333.05,327.85) rotate(0.05)" style="font-family:'Liberation Sans',sans-serif;font-size:9.20px">50</text>
<text transform="translate(404.10,333.35) rotate(0.05)" style="font-family:'Liberation Sans',sans-serif;font-size:13.00px">10</text>
<text transform="translate(419.58,327.73) rotate(0.05)" style="font-family:'Liberation Sans',sans-serif;font-size:9.20px">44</text>
<text transform="translate(455.00,333.35) rotate(0.05)" style="font-family:'Liberation Sans',sans-serif;font-size:13.00px">10</text>
<text transform="translate(470.60,327.73) rotate(0.05)" style="font-family:'Liberation Sans',sans-serif;font-size:9.20px">45</text>
<text transform="translate(505.90,333.35) rotate(0.05)" style="font-family:'Liberation Sans',sans-serif;font-size:13.00px">10</text>
<text transform="translate(521.50,327.85) rotate(0.05)" style="font-family:'Liberation Sans',sans-serif;font-size:9.20px">46</text>
<text transform="translate(556.80,333.35) rotate(0.05)" style="font-family:'Liberation Sans',sans-serif;font-size:13.00px">10</text>
<text transform="translate(572.40,327.73) rotate(0.05)" style="font-family:'Liberation Sans',sans-serif;font-size:9.20px">47</text>
<text transform="translate(607.70,333.35) rotate(0.05)" style="font-family:'Liberation Sans',sans-serif;font-size:13.00px">10</text>
<text transform="translate(623.30,327.85) rotate(0.05)" style="font-family:'Liberation Sans',sans-serif;font-size:9.20px">48</text>
<text transform="translate(658.60,333.35) rotate(0.05)" style="font-family:'Liberation Sans',sans-serif;font-size:13.00px">10</text>
<text transform="translate(674.20,327.85) rotate(0.05)" style="font-family:'Liberation Sans',sans-serif;font-size:9.20px">49</text>
<text transform="translate(709.50,333.35) rotate(0.05)" style="font-family:'Liberation Sans',sans-serif;font-size:13.00px">10</text>
<text transform="translate(724.85,327.85) rotate(0.05)" style="font-family:'Liberation Sans',sans-serif;font-size:9.20px">50</text>
<text transform="translate(407.80,317.75) rotate(0.05)" style="font-family:'Liberation Sans',sans-serif;font-size:9.20px">2</text>
<text transform="translate(407.80,278.86) rotate(0.05)" style="font-family:'Liberation Sans',sans-serif;font-size:9.20px">3</text>
<text transform="translate(407.80,239.84) rotate(0.05)" style="font-family:'Liberation Sans',sans-serif;font-size:9.20px">4</text>
<text transform="translate(407.80,200.94) rotate(0.05)" style="font-family:'Liberation Sans',sans-serif;font-size:9.20px">5</text>
<text transform="translate(407.80,162.17) rotate(0.05)" style="font-family:'Liberation Sans',sans-serif;font-size:9.20px">6</text>
<text transform="translate(407.80,123.16) rotate(0.05)" style="font-family:'Liberation Sans',sans-serif;font-size:9.20px">7</text>
<text transform="translate(407.80,84.39) rotate(0.05)" style="font-family:'Liberation Sans',sans-serif;font-size:9.20px">8</text>
<text transform="translate(407.80,45.49) rotate(0.05)" style="font-family:'Liberation Sans',sans-serif;font-size:9.20px">9</text>
<text transform="translate(402.55,6.60) rotate(0.05)" style="font-family:'Liberation Sans',sans-serif;font-size:9.20px">10</text>
<text transform="translate(392.10,323.15) rotate(0.05)" style="font-family:'Liberation Sans',sans-serif;font-size:13.00px">10</text>
<text transform="translate(392.10,284.26) rotate(0.05)" style="font-family:'Liberation Sans',sans-serif;font-size:13.00px">10</text>
<text transform="translate(391.85,245.36) rotate(0.05)" style="font-family:'Liberation Sans',sans-serif;font-size:13.00px">10</text>
<text transform="translate(392.10,206.47) rotate(0.05)" style="font-family:'Liberation Sans',sans-serif;font-size:13.00px">10</text>
<text transform="translate(392.10,167.57) rotate(0.05)" style="font-family:'Liberation Sans',sans-serif;font-size:13.00px">10</text>
<text transform="translate(392.10,128.68) rotate(0.05)" style="font-family:'Liberation Sans',sans-serif;font-size:13.00px">10</text>
<text transform="translate(392.10,89.79) rotate(0.05)" style="font-family:'Liberation Sans',sans-serif;font-size:13.00px">10</text>
<text transform="translate(392.10,50.89) rotate(0.05)" style="font-family:'Liberation Sans',sans-serif;font-size:13.00px">10</text>
<text transform="translate(387.10,12.00) rotate(0.05)" style="font-family:'Liberation Sans',sans-serif;font-size:13.00px">10</text>
<text transform="translate(152.67,349.38) rotate(0.05) scale(0.9111,1.0000)" style="font-family:'Liberation Serif',serif;font-style:italic;font-size:13.80px">Q</text>
<text transform="translate(161.78,351.62) rotate(0.05) scale(0.9429,1.0000)" style="font-family:'Liberation Serif',serif;font-style:italic;font-size:9.60px">lyc</text>
<text transform="translate(177.20,348.65) rotate(0.05)" style="font-family:'Liberation Sans',sans-serif;font-size:12.80px">[</text>
<text transform="translate(181.25,349.27) rotate(0.05)" style="font-family:'Liberation Sans',sans-serif;font-size:12.80px">s</text>
<text transform="translate(189.02,345.73) rotate(0.05) scale(0.8667,1.0000)" style="font-family:'Liberation Sans',sans-serif;font-size:9.20px">&#8722;</text>
<text transform="translate(194.15,345.23) rotate(0.05)" style="font-family:'Liberation Sans',sans-serif;font-size:9.20px">1</text>
<text transform="translate(200.73,348.65) rotate(0.05)" style="font-family:'Liberation Sans',sans-serif;font-size:12.80px">]</text>
<text transform="translate(544.57,349.38) rotate(0.05) scale(0.9111,1.0000)" style="font-family:'Liberation Serif',serif;font-style:italic;font-size:13.80px">Q</text>
<text transform="translate(553.68,351.62) rotate(0.05) scale(0.9429,1.0000)" style="font-family:'Liberation Serif',serif;font-style:italic;font-size:9.60px">lyc</text>
<text transform="translate(569.10,348.65) rotate(0.05)" style="font-family:'Liberation Sans',sans-serif;font-size:12.80px">[</text>
<text transform="translate(573.15,349.27) rotate(0.05)" style="font-family:'Liberation Sans',sans-serif;font-size:12.80px">s</text>
<text transform="translate(580.92,345.73) rotate(0.05) scale(0.8667,1.0000)" style="font-family:'Liberation Sans',sans-serif;font-size:9.20px">&#8722;</text>
<text transform="translate(586.05,345.23) rotate(0.05)" style="font-family:'Liberation Sans',sans-serif;font-size:9.20px">1</text>
<text transform="translate(592.62,348.65) rotate(0.05)" style="font-family:'Liberation Sans',sans-serif;font-size:12.80px">]</text>
<text transform="translate(9.20,181.92) rotate(-90) scale(1.0625,1.0000)" style="font-family:'Liberation Sans',sans-serif;font-size:12.80px">T<tspan dy="2.6" style="font-size:9.20px;font-style:italic">B</tspan><tspan dy="-2.6"> [K]</tspan></text>
<text transform="translate(353.75,217.89) rotate(-90) scale(1.0365,1.0000)" style="font-family:'Liberation Sans',sans-serif;font-size:12.80px">Flux Density [mJy]</text>
<text transform="translate(380.27,202.00) rotate(-90) scale(0.9971,1.0000)" style="font-family:'Liberation Sans',sans-serif;font-size:12.80px">n(e</text>
<text transform="translate(376.82,180.57) rotate(-90) scale(1.0444,1.0000)" style="font-family:'Liberation Sans',sans-serif;font-size:9.20px">&#8722;</text>
<text transform="translate(380.10,172.23) rotate(-90) scale(1.1229,1.0000)" style="font-family:'Liberation Sans',sans-serif;font-size:12.80px">) [cm</text>
<text transform="translate(377.50,140.29) rotate(-90) scale(0.8737,1.0000)" style="font-family:'Liberation Sans',sans-serif;font-size:9.20px">&#8722;3</text>
<text transform="translate(380.20,128.28) rotate(-90)" style="font-family:'Liberation Sans',sans-serif;font-size:12.80px">]</text>
</g></svg></body></html>
